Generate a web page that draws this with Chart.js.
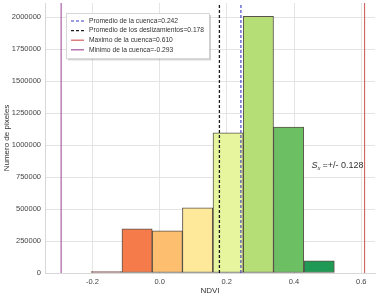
<!DOCTYPE html>
<html lang="es">
<head>
<meta charset="UTF-8">
<title>Histograma NDVI</title>
<script src="https://cdn.jsdelivr.net/npm/chart.js"></script>
<style>
  body { margin: 0; background: #fff; }
  .wrap { width: 379px; height: 297px; }
</style>
</head>
<body>
<div class="wrap"><canvas id="ndviChart"></canvas></div>
<script>
// histogram bins (centres) and pixel counts
const binCenters = [-0.158, -0.067, 0.023, 0.113, 0.204, 0.294, 0.384, 0.475];
const pixelCounts = [12000, 345000, 330000, 510000, 1095000, 2005000, 1140000, 95000];
const binColors = ['#a3262a', '#f57b4a', '#fdbf6f', '#fee99a', '#e7f59e', '#b6de76', '#6cbf63', '#1f9a55'];

const xTicks = [-0.2, 0, 0.2, 0.4, 0.6];
const yTicks = [0, 250000, 500000, 750000, 1000000, 1250000, 1500000, 1750000, 2000000];

// reference lines
const refLabels = ['Promedio de la cuenca=0.242', 'Promedio de los deslizamientos=0.178', 'Maximo de la cuenca=0.610', 'Minimo de la cuenca=-0.293'];
const refValues = [0.242, 0.178, 0.610, -0.293];
const refColors = ['#3a3ac4', '#1e1e1e', '#d2605f', '#a0529c'];
const refDashes = [[3, 2], [3, 2], [], []];

const sxText = '=+/- 0.128';
const sxPos = [0.452, 820000];

const X_MIN = -0.341, X_MAX = 0.641, Y_MAX = 2110000;
const FONT = '"Liberation Sans", Arial, sans-serif';

const datasets = [{
  type: 'bar',
  data: binCenters.map((c, i) => ({ x: c, y: pixelCounts[i] })),
  backgroundColor: binColors,
  borderColor: 'rgba(50,40,30,0.8)',
  borderWidth: 1,
  borderSkipped: false,
  barPercentage: 1,
  categoryPercentage: 1,
  order: 2
}];
refValues.forEach((v, i) => {
  datasets.push({
    type: 'line',
    label: refLabels[i],
    data: [{ x: v, y: 0 }, { x: v, y: Y_MAX }],
    borderColor: refColors[i],
    borderWidth: i === 1 ? 1.3 : 1.1,
    borderDash: refDashes[i],
    pointRadius: 0,
    order: 1
  });
});

const decor = {
  id: 'decor',
  afterDatasetsDraw(chart) {
    const { ctx, scales: { x, y }, chartArea } = chart;
    ctx.save();
    // S_x annotation
    const px = x.getPixelForValue(sxPos[0]), py = y.getPixelForValue(sxPos[1]);
    ctx.fillStyle = '#333';
    ctx.textBaseline = 'alphabetic';
    ctx.font = 'italic 9px ' + FONT;
    ctx.fillText('S', px, py);
    let w = ctx.measureText('S').width;
    ctx.font = 'italic 6px ' + FONT;
    ctx.fillText('x', px + w, py + 2);
    w += ctx.measureText('x').width + 2;
    ctx.font = '9px ' + FONT;
    ctx.fillText(sxText, px + w, py);

    // legend box
    ctx.font = '6.7px ' + FONT;
    const bx = chartArea.left + 21, by = chartArea.top + 10;
    const rowH = 9.6;
    let tw = 0;
    refLabels.forEach(l => { tw = Math.max(tw, ctx.measureText(l).width); });
    const bw = tw + 28, bh = rowH * refLabels.length + 7;
    ctx.fillStyle = 'rgba(0,0,0,0.18)';
    ctx.fillRect(bx + 2, by + 2, bw, bh);
    ctx.fillStyle = '#fff';
    ctx.fillRect(bx, by, bw, bh);
    ctx.strokeStyle = '#cfcfcf';
    ctx.lineWidth = 0.8;
    ctx.strokeRect(bx + 0.5, by + 0.5, bw, bh);
    ctx.textBaseline = 'middle';
    refLabels.forEach((l, i) => {
      const ry = by + 8 + i * rowH;
      ctx.beginPath();
      ctx.setLineDash(refDashes[i]);
      ctx.strokeStyle = refColors[i];
      ctx.lineWidth = 1.2;
      ctx.moveTo(bx + 5, ry);
      ctx.lineTo(bx + 18, ry);
      ctx.stroke();
      ctx.setLineDash([]);
      ctx.fillStyle = '#333';
      ctx.fillText(l, bx + 23, ry);
    });
    ctx.restore();
  }
};

new Chart(document.getElementById('ndviChart'), {
  type: 'bar',
  data: { datasets },
  options: {
    responsive: true,
    maintainAspectRatio: false,
    animation: false,
    layout: { padding: { left: 2, right: 4, top: 3, bottom: 1 } },
    plugins: { legend: { display: false }, tooltip: { enabled: false } },
    scales: {
      x: {
        type: 'linear',
        min: X_MIN,
        max: X_MAX,
        offset: false,
        afterBuildTicks: s => { s.ticks = xTicks.map(v => ({ value: v })); },
        afterFit: s => { s.height = 23; s.paddingLeft = 0; s.paddingRight = 0; },
        grid: { color: '#e4e4e4', offset: false, drawTicks: false },
        border: { color: '#d8d8d8' },
        ticks: {
          padding: 4,
          color: '#444',
          font: { size: 7.5, family: FONT },
          maxRotation: 0,
          callback: v => (v < 0 ? '-' : '') + Math.abs(v).toFixed(1)
        },
        title: { display: true, text: 'NDVI', color: '#333', font: { size: 8, family: FONT }, padding: 0 }
      },
      y: {
        min: 0,
        max: Y_MAX,
        afterBuildTicks: s => { s.ticks = yTicks.map(v => ({ value: v })); },
        afterFit: s => { s.width = 43; s.paddingTop = 0; s.paddingBottom = 0; },
        grid: { color: '#e4e4e4', drawTicks: false },
        border: { color: '#d8d8d8' },
        ticks: {
          padding: 4,
          color: '#444',
          font: { size: 7.5, family: FONT },
          callback: v => String(v)
        },
        title: { display: true, text: 'Numero de pixeles', color: '#333', font: { size: 8, family: FONT }, padding: 0 }
      }
    }
  },
  plugins: [decor]
});
</script>
</body>
</html>
